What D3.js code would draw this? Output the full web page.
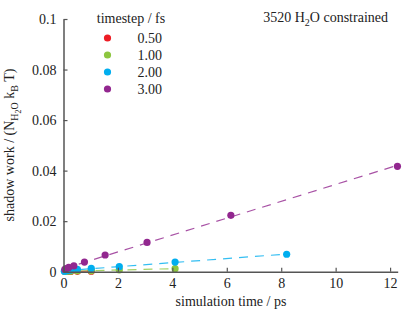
<!DOCTYPE html>
<html>
<head>
<meta charset="utf-8">
<script src="https://cdn.jsdelivr.net/npm/d3@7"></script>
<style>
  body { margin: 0; background: #fff; }
  svg text { font-family: "Liberation Serif", "Times New Roman", serif; }
</style>
</head>
<body>
<svg id="chart" width="415" height="311"></svg>
<script>
// legend entries
const timesteps = ["0.50", "1.00", "2.00", "3.00"];
const colors = ["#ed1c24", "#8dc63f", "#00aeef", "#92278f"];

// simulation time (ps) / shadow work per series
const time050 = [0.06, 0.13, 0.26, 0.51, 1.02];
const work050 = [0.0001, 0.0001, 0.00012, 0.00015, 0.0002];
const time100 = [0.06, 0.13, 0.26, 0.51, 1.02, 2.05, 4.1];
const work100 = [0.0001, 0.00015, 0.0002, 0.0003, 0.0004, 0.0007, 0.0012];
const time200 = [0.03, 0.06, 0.13, 0.26, 0.51, 1.02, 2.05, 4.1, 8.2];
const work200 = [0.0002, 0.0003, 0.0004, 0.0006, 0.0009, 0.0013, 0.002, 0.0038, 0.0069];
const time300 = [0.05, 0.1, 0.19, 0.38, 0.77, 1.53, 3.07, 6.15, 12.27];
const work300 = [0.0009, 0.0012, 0.0017, 0.0023, 0.0038, 0.0066, 0.0116, 0.0223, 0.0417];

const xTicks = [0, 2, 4, 6, 8, 10, 12];
const yTicks = [0, 0.02, 0.04, 0.06, 0.08, 0.1];

const series = [
  { t: time050, w: work050 },
  { t: time100, w: work100 },
  { t: time200, w: work200 },
  { t: time300, w: work300 }
];

const FONT = "Liberation Serif";
const svg = d3.select("#chart");

const x = d3.scaleLinear().domain([0, 12.28]).range([63.5, 397.7]);
const y = d3.scaleLinear().domain([0, 0.1]).range([271.7, 19]);

// linear fit for the dashed lines
function fit(t, w) {
  const mt = d3.mean(t), mw = d3.mean(w);
  let num = 0, den = 0;
  t.forEach((v, i) => { num += (v - mt) * (w[i] - mw); den += (v - mt) * (v - mt); });
  const b = num / den;
  return { a: mw - b * mt, b: b };
}

const lineG = svg.append("g");
series.forEach((s, i) => {
  const f = fit(s.t, s.w);
  const x1 = d3.max(s.t);
  lineG.append("line")
    .attr("x1", x(0)).attr("y1", y(f.a))
    .attr("x2", x(x1)).attr("y2", y(f.a + f.b * x1))
    .attr("stroke", colors[i])
    .attr("stroke-opacity", 0.8)
    .attr("stroke-width", 1.2)
    .attr("stroke-dasharray", "9,7");
});

const dotG = svg.append("g");
series.forEach((s, i) => {
  dotG.selectAll(null)
    .data(s.t.map((v, j) => [v, s.w[j]]))
    .enter()
    .append("circle")
    .attr("cx", d => x(d[0]))
    .attr("cy", d => y(d[1]))
    .attr("r", 3.6)
    .attr("fill", colors[i]);
});

// axes, ticks pointing inward
const xAxis = svg.append("g")
  .attr("transform", `translate(0,${y(0)})`)
  .call(d3.axisBottom(x).tickValues(xTicks).tickSize(-4).tickSizeOuter(0).tickPadding(8).tickFormat(d3.format("d")));
const yAxis = svg.append("g")
  .attr("transform", `translate(${x(0)},0)`)
  .call(d3.axisLeft(y).tickValues(yTicks).tickSize(-4).tickSizeOuter(0).tickPadding(7).tickFormat(d => d === 0 ? "0" : String(+d.toFixed(2))));

[xAxis, yAxis].forEach(a => {
  a.attr("font-family", FONT).attr("font-size", 14);
  a.select(".domain").attr("stroke", "#555").attr("stroke-width", 1.5);
  a.selectAll(".tick line").attr("stroke", "#555").attr("stroke-width", 1.2);
  a.selectAll(".tick text").attr("fill", "#222");
});
xAxis.selectAll(".tick text").attr("dy", "0.6em");

// axis labels
svg.append("text")
  .attr("x", 231).attr("y", 306)
  .attr("text-anchor", "middle")
  .attr("font-size", 14).attr("fill", "#222")
  .text("simulation time / ps");

const yl = svg.append("text")
  .attr("transform", "translate(14,145) rotate(-90)")
  .attr("text-anchor", "middle")
  .attr("font-size", 14).attr("fill", "#222");
yl.append("tspan").text("shadow work / (N");
yl.append("tspan").attr("font-size", 10).attr("dy", 4).text("H");
yl.append("tspan").attr("font-size", 8).attr("dy", 3).text("2");
yl.append("tspan").attr("font-size", 10).attr("dy", -3).text("O");
yl.append("tspan").attr("dy", -4).text(" k");
yl.append("tspan").attr("font-size", 10).attr("dy", 4).text("B");
yl.append("tspan").attr("dy", -4).text(" T)");

// title
const title = svg.append("text")
  .attr("x", 388).attr("y", 22)
  .attr("text-anchor", "end")
  .attr("font-size", 14).attr("fill", "#222");
title.append("tspan").text("3520 H");
title.append("tspan").attr("font-size", 10).attr("dy", 4).text("2");
title.append("tspan").attr("dy", -4).text("O constrained");

// legend
const legend = svg.append("g");
legend.append("text")
  .attr("x", 131).attr("y", 23)
  .attr("text-anchor", "middle")
  .attr("font-size", 14).attr("fill", "#222")
  .text("timestep / fs");
timesteps.forEach((ts, i) => {
  const ly = 38 + i * 17;
  legend.append("circle")
    .attr("cx", 107.5).attr("cy", ly).attr("r", 3.6)
    .attr("fill", colors[i]);
  legend.append("text")
    .attr("x", 162).attr("y", ly + 5)
    .attr("text-anchor", "end")
    .attr("font-size", 14).attr("fill", "#222")
    .text(ts);
});
</script>
</body>
</html>
